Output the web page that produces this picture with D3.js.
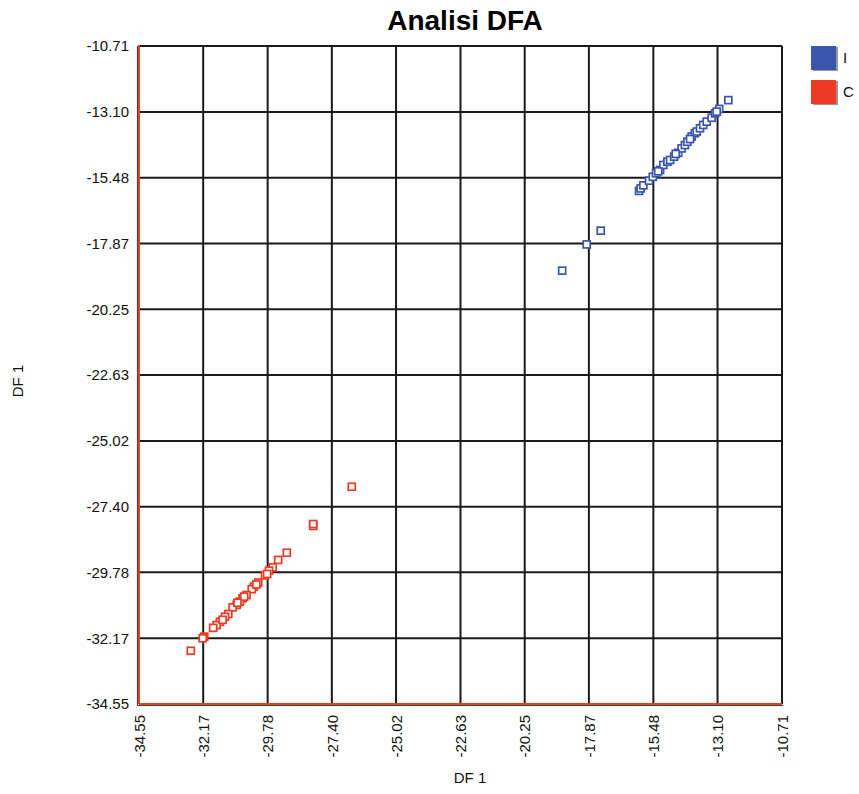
<!DOCTYPE html>
<html><head><meta charset="utf-8">
<script src="https://cdn.jsdelivr.net/npm/d3@7"></script>
<style>body{margin:0;background:#fff}</style>
</head><body>
<svg id="c" width="859" height="794"></svg>
<script>
const ticks = [-34.55,-32.17,-29.78,-27.40,-25.02,-22.63,-20.25,-17.87,-15.48,-13.10,-10.71];
const tickLabels = ["-34.55","-32.17","-29.78","-27.40","-25.02","-22.63","-20.25","-17.87","-15.48","-13.10","-10.71"];
const seriesNames = ["I","C"];
const seriesColors = ["#3a55ae","#ee3a22"];
const blueX = [-12.70,-13.04,-18.86,-17.95,-17.43,-16.01,-15.95,-15.85,-15.64,-15.50,-15.38,-15.23,-15.11,-14.96,-14.86,-14.71,-14.56,-14.43,-14.31,-14.22,-14.06,-13.94,-13.87,-13.75,-13.63,-13.50,-13.32,-13.19,-13.13,-14.65,-14.12,-15.30];
const blueY = [-12.67,-12.99,-18.85,-17.90,-17.40,-15.96,-15.87,-15.76,-15.59,-15.45,-15.32,-15.20,-15.02,-14.90,-14.84,-14.72,-14.58,-14.42,-14.30,-14.18,-13.99,-13.87,-13.81,-13.69,-13.57,-13.45,-13.31,-13.15,-13.09,-14.62,-14.08,-15.25];
const redX = [-26.66,-28.09,-28.09,-29.07,-29.39,-29.59,-29.73,-29.88,-30.13,-30.29,-30.37,-30.56,-30.71,-30.81,-30.93,-31.08,-31.24,-31.36,-31.55,-31.67,-31.80,-32.13,-32.19,-32.63,-30.65,-30.90,-31.45,-30.20,-29.80];
const redY = [-26.68,-28.10,-28.03,-29.07,-29.33,-29.60,-29.72,-29.89,-30.15,-30.30,-30.39,-30.60,-30.72,-30.84,-30.96,-31.05,-31.29,-31.39,-31.57,-31.69,-31.79,-32.11,-32.17,-32.62,-30.66,-30.88,-31.50,-30.22,-29.84];

const svg = d3.select("#c");
const L=139, R=782, T=46, B=704;
const x = d3.scaleLinear().domain([-34.55,-10.71]).range([L,R]);
const y = d3.scaleLinear().domain([-34.55,-10.71]).range([B,T]);
const font = "'Liberation Sans', Arial, sans-serif";

// grid
const g = svg.append("g");
g.selectAll("line.v").data(ticks).enter().append("line")
  .attr("x1",d=>x(d)).attr("x2",d=>x(d)).attr("y1",T).attr("y2",B)
  .attr("stroke","#1a1a1a").attr("stroke-width",2);
g.selectAll("line.h").data(ticks).enter().append("line")
  .attr("y1",d=>y(d)).attr("y2",d=>y(d)).attr("x1",L).attr("x2",R)
  .attr("stroke","#1a1a1a").attr("stroke-width",2);
// red axis lines with shadow
svg.append("line").attr("x1",L-1.5).attr("x2",L-1.5).attr("y1",T).attr("y2",B+1).attr("stroke","#444").attr("stroke-width",1.2);
svg.append("line").attr("x1",L).attr("x2",L).attr("y1",T-1).attr("y2",B).attr("stroke","#e0401e").attr("stroke-width",2);
svg.append("line").attr("x1",L-2).attr("x2",R+1).attr("y1",B+1.5).attr("y2",B+1.5).attr("stroke","#444").attr("stroke-width",1.2);
svg.append("line").attr("x1",L).attr("x2",R).attr("y1",B).attr("y2",B).attr("stroke","#e0401e").attr("stroke-width",2);

// y axis ticks
const ya = d3.axisLeft(y).tickValues(ticks).tickFormat((d,i)=>tickLabels[i]).tickSize(0).tickPadding(10);
const yg = svg.append("g").attr("transform",`translate(${L},0)`).call(ya);
yg.select(".domain").remove();
yg.selectAll("text").attr("font-family",font).attr("font-size",15).attr("fill","#111");
// x axis ticks
const xa = d3.axisBottom(x).tickValues(ticks).tickFormat((d,i)=>tickLabels[i]).tickSize(0);
const xg = svg.append("g").attr("transform",`translate(0,${B})`).call(xa);
xg.select(".domain").remove();
xg.selectAll("text").attr("font-family",font).attr("font-size",15).attr("fill","#111")
  .attr("transform","rotate(-90)").attr("text-anchor","end").attr("x",-11).attr("y",0).attr("dy","0.35em");

// points
function pts(xs, ys, col){
  svg.append("g").selectAll("rect").data(xs.map((v,i)=>[v,ys[i]])).enter().append("rect")
    .attr("x",d=>x(d[0])-3.5).attr("y",d=>y(d[1])-3.5).attr("width",7).attr("height",7)
    .attr("fill","#fff").attr("stroke",col).attr("stroke-width",1.7);
}
pts(blueX, blueY, seriesColors[0]);
pts(redX, redY, seriesColors[1]);

// title
svg.append("text").attr("x",465).attr("y",30).attr("text-anchor","middle")
  .attr("font-family",font).attr("font-weight","bold").attr("font-size",28).attr("fill","#000").text("Analisi DFA");
// axis titles
svg.append("text").attr("x",470).attr("y",783).attr("text-anchor","middle")
  .attr("font-family",font).attr("font-size",15).attr("fill","#111").text("DF 1");
svg.append("text").attr("transform","translate(23,381) rotate(-90)").attr("text-anchor","middle")
  .attr("font-family",font).attr("font-size",15).attr("fill","#111").text("DF 1");

// legend
const lg = svg.append("g");
seriesNames.forEach((n,i)=>{
  const yy = 46 + i*34;
  lg.append("rect").attr("x",813).attr("y",yy+1).attr("width",25).attr("height",24).attr("fill","#999");
  lg.append("rect").attr("x",811).attr("y",yy).attr("width",25).attr("height",24).attr("fill",seriesColors[i]);
  lg.append("text").attr("x",843).attr("y",yy+17).attr("font-family",font).attr("font-size",15).attr("fill","#111").text(n);
});
</script>
</body></html>
